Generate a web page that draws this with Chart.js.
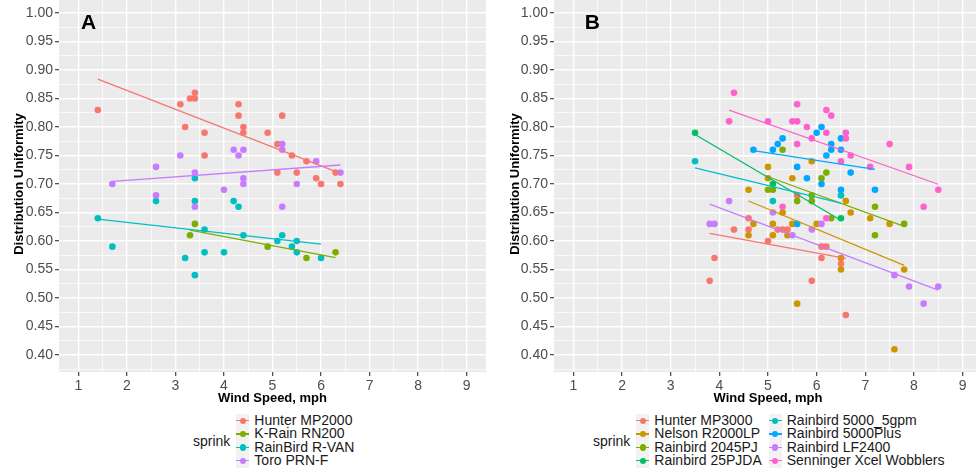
<!DOCTYPE html>
<html lang="en">
<head>
<meta charset="UTF-8" />
<title>Distribution Uniformity vs Wind Speed</title>
<script src="https://cdn.jsdelivr.net/npm/chart.js"></script>
<style>
    * { margin: 0; padding: 0; box-sizing: border-box; }
    body {
        width: 976px; height: 469px; overflow: hidden; position: relative;
        background: #fff; font-family: "Liberation Sans", Arial, sans-serif;
    }
    canvas { position: absolute; }
    #chartA { left: 0; top: -8px; }
    #chartB { left: 491px; top: -8px; }
    .legend {
        position: absolute; top: 414px; display: flex; align-items: center;
        font-size: 14px; color: #1a1a1a;
    }
    .legend .title { margin-right: 6px; }
    .legend ul { list-style: none; margin-right: 7px; }
    .legend li { display: flex; align-items: center; height: 13.4px; line-height: 13.4px; white-space: nowrap; }
    .key { width: 13px; height: 13.4px; background: #f2f2f2; position: relative; margin-right: 5px; }
    .key::before { content: ''; position: absolute; left: 0; right: 0; top: 6.1px; height: 1.2px; background: var(--c); }
    .key::after { content: ''; position: absolute; left: 3.4px; top: 3.6px; width: 6.2px; height: 6.2px; border-radius: 50%; background: var(--c); }
</style>
</head>
<body>
<canvas id="chartA" width="490" height="414"></canvas>
<canvas id="chartB" width="495" height="414"></canvas>
<div class="legend" id="legendA" style="left:193px"></div>
<div class="legend" id="legendB" style="left:593px"></div>

<script>
    // axes
    const xMajor = [1, 2, 3, 4, 5, 6, 7, 8, 9];
    const xTickLabels = ["1", "2", "3", "4", "5", "6", "7", "8", "9"];
    const yMajor = [0.40, 0.45, 0.50, 0.55, 0.60, 0.65, 0.70, 0.75, 0.80, 0.85, 0.90, 0.95, 1.00];
    const yTickLabels = ["0.40", "0.45", "0.50", "0.55", "0.60", "0.65", "0.70", "0.75", "0.80", "0.85", "0.90", "0.95", "1.00"];

    // panel A
    const sprinkA = ["Hunter MP2000", "K-Rain RN200", "RainBird R-VAN", "Toro PRN-F"];
    const colorsA = ["#F8766D", "#7CAE00", "#00BFC4", "#C77CFF"];
    const hunterMP2000Wind = [1.4, 3.4, 3.3, 3.4, 3.1, 4.3, 4.3, 5.2, 3.2, 4.4, 4.4, 3.6, 4.9, 5.1, 3.6, 5.4, 5.7, 5.1, 5.5, 6.3, 5.9, 6.0, 6.4];
    const hunterMP2000DU = [0.83, 0.86, 0.85, 0.85, 0.84, 0.84, 0.82, 0.82, 0.80, 0.80, 0.79, 0.79, 0.79, 0.77, 0.75, 0.75, 0.74, 0.72, 0.72, 0.72, 0.71, 0.70, 0.70];
    const kRainWind = [3.4, 3.3, 4.9, 6.3, 5.7];
    const kRainDU = [0.63, 0.61, 0.59, 0.58, 0.57];
    const rvanWind = [1.4, 1.7, 2.6, 3.4, 3.4, 4.2, 4.3, 3.6, 4.4, 5.1, 3.6, 4.0, 3.2, 3.4, 5.2, 5.5, 5.4, 5.5, 6.0];
    const rvanDU = [0.64, 0.59, 0.67, 0.71, 0.67, 0.67, 0.66, 0.62, 0.61, 0.60, 0.58, 0.58, 0.57, 0.54, 0.61, 0.60, 0.59, 0.58, 0.57];
    const toroWind = [1.7, 2.6, 2.6, 3.1, 3.4, 3.4, 4.0, 4.2, 4.4, 4.3, 4.4, 4.4, 5.2, 5.2, 5.9, 6.4, 5.5, 5.2];
    const toroDU = [0.70, 0.73, 0.68, 0.75, 0.72, 0.66, 0.69, 0.76, 0.76, 0.75, 0.71, 0.70, 0.77, 0.76, 0.74, 0.72, 0.70, 0.66];

    // panel B
    const sprinkB = ["Hunter MP3000", "Nelson R2000LP", "Rainbird 2045PJ", "Rainbird 25PJDA",
        "Rainbird 5000_5gpm", "Rainbird 5000Plus", "Rainbird LF2400", "Senninger Xcel Wobblers"];
    const colorsB = ["#F8766D", "#CD9600", "#7CAE00", "#00BE67", "#00BFC4", "#00A9FF", "#C77CFF", "#FF61CC"];
    const hunterMP3000Wind = [5.6, 4.6, 4.3, 4.6, 5.2, 5.3, 5.4, 5.0, 3.9, 3.8, 6.1, 6.2, 6.1, 6.5, 5.9, 6.6];
    const hunterMP3000DU = [0.68, 0.64, 0.62, 0.62, 0.62, 0.62, 0.62, 0.60, 0.57, 0.53, 0.59, 0.59, 0.57, 0.56, 0.53, 0.47];
    const nelsonWind = [5.0, 5.0, 5.5, 5.9, 6.6, 6.7, 7.1, 7.5, 6.0, 6.5, 6.5, 7.8, 5.6, 7.6, 4.6, 5.3, 4.7, 5.1, 5.5, 4.6, 5.1, 5.4];
    const nelsonDU = [0.73, 0.71, 0.71, 0.74, 0.67, 0.65, 0.64, 0.63, 0.63, 0.57, 0.55, 0.55, 0.49, 0.41, 0.69, 0.65, 0.63, 0.63, 0.63, 0.61, 0.61, 0.61];
    const rb2045Wind = [5.3, 6.2, 6.1, 5.9, 5.9, 7.2, 6.3, 7.8, 7.2, 5.0, 5.1, 5.6];
    const rb2045DU = [0.76, 0.72, 0.71, 0.68, 0.67, 0.66, 0.64, 0.63, 0.61, 0.69, 0.69, 0.67];
    const rb25Wind = [3.5, 5.1, 6.5];
    const rb25DU = [0.79, 0.70, 0.64];
    const rb5000gpmWind = [3.5, 5.1, 6.5];
    const rb5000gpmDU = [0.74, 0.67, 0.68];
    const rb5000PlusWind = [5.3, 5.2, 4.7, 5.1, 5.6, 5.8, 6.1, 6.0, 6.5, 6.3, 6.3, 6.5, 6.2, 6.7, 6.1, 6.5, 7.2, 5.6];
    const rb5000PlusDU = [0.78, 0.77, 0.76, 0.76, 0.73, 0.71, 0.80, 0.79, 0.78, 0.77, 0.76, 0.76, 0.75, 0.72, 0.70, 0.69, 0.69, 0.63];
    const lf2400Wind = [4.2, 5.1, 3.8, 3.9, 5.5, 5.9, 6.1, 7.6, 7.9, 8.5, 8.2];
    const lf2400DU = [0.67, 0.65, 0.63, 0.63, 0.61, 0.62, 0.63, 0.54, 0.52, 0.52, 0.49];
    const senningerWind = [4.3, 5.6, 4.2, 5.0, 5.5, 5.6, 5.8, 5.6, 6.2, 6.3, 6.2, 6.6, 5.9, 6.6, 7.5, 6.7, 6.5, 7.1, 7.9, 8.5, 8.2, 6.2, 5.3];
    const senningerDU = [0.86, 0.84, 0.81, 0.81, 0.81, 0.81, 0.80, 0.77, 0.83, 0.82, 0.79, 0.79, 0.78, 0.78, 0.77, 0.75, 0.74, 0.73, 0.73, 0.69, 0.66, 0.64, 0.66];

    const panelLabels = ["A", "B"];
    const panelLabelX = [1.21, 1.39];
    const panelLabelY = [0.982, 0.982];

    const groupsA = [[hunterMP2000Wind, hunterMP2000DU], [kRainWind, kRainDU], [rvanWind, rvanDU], [toroWind, toroDU]];
    const groupsB = [[hunterMP3000Wind, hunterMP3000DU], [nelsonWind, nelsonDU], [rb2045Wind, rb2045DU], [rb25Wind, rb25DU],
        [rb5000gpmWind, rb5000gpmDU], [rb5000PlusWind, rb5000PlusDU], [lf2400Wind, lf2400DU], [senningerWind, senningerDU]];

    // least squares line over the group's x range (geom_smooth method = lm)
    function fitLine(xs, ys) {
        const n = xs.length;
        const mx = xs.reduce((a, b) => a + b, 0) / n;
        const my = ys.reduce((a, b) => a + b, 0) / n;
        let sxy = 0, sxx = 0;
        xs.forEach((x, i) => { sxy += (x - mx) * (ys[i] - my); sxx += (x - mx) * (x - mx); });
        const b = sxy / sxx;
        const lo = Math.min(...xs), hi = Math.max(...xs);
        return [{ x: lo, y: my + b * (lo - mx) }, { x: hi, y: my + b * (hi - mx) }];
    }

    function buildDatasets(groups, colors) {
        const sets = [];
        groups.forEach(([xs, ys], i) => {
            sets.push({
                type: "scatter",
                data: xs.map((x, j) => ({ x: x, y: ys[j] })),
                backgroundColor: colors[i],
                borderWidth: 0,
                pointRadius: 3.3,
                order: 100 - i
            });
            sets.push({
                type: "scatter",
                showLine: true,
                data: fitLine(xs, ys),
                borderColor: colors[i],
                borderWidth: 1.3,
                pointRadius: 0,
                fill: false,
                order: 50 - i
            });
        });
        return sets;
    }

    function gridScale(major, labels, min, max) {
        const step = major[1] - major[0];
        const minor = major.map(v => v - step / 2).concat([major[major.length - 1] + step / 2])
            .filter(v => v >= min && v <= max);
        const all = major.concat(minor).sort((a, b) => a - b);
        const majorIndex = v => major.findIndex(m => Math.abs(m - v) < 1e-9);
        const isMajor = c => c.tick && majorIndex(c.tick.value) >= 0;
        return {
            type: "linear",
            min: min,
            max: max,
            afterBuildTicks: s => { s.ticks = all.map(v => ({ value: v })); },
            ticks: {
                autoSkip: false,
                maxRotation: 0,
                color: "#4d4d4d",
                font: { size: 14 },
                padding: 2,
                callback: v => { const i = majorIndex(v); return i < 0 ? "" : labels[i]; }
            },
            grid: {
                color: "#ffffff",
                lineWidth: c => isMajor(c) ? 1.4 : 0.7,
                tickLength: 4,
                tickWidth: 1.1,
                tickColor: c => isMajor(c) ? "#333333" : "rgba(0,0,0,0)"
            },
            border: { display: false }
        };
    }

    const panelBg = {
        id: "panelBg",
        beforeDraw(chart) {
            const { ctx, chartArea: a } = chart;
            ctx.save();
            ctx.fillStyle = "#ebebeb";
            ctx.fillRect(a.left, a.top, a.width, a.height);
            ctx.restore();
        }
    };

    const panelLetter = {
        id: "panelLetter",
        afterDraw(chart, args, opts) {
            const { ctx, scales } = chart;
            ctx.save();
            ctx.font = "bold 21px 'Liberation Sans', Arial, sans-serif";
            ctx.fillStyle = "#000";
            ctx.textAlign = "center";
            ctx.textBaseline = "middle";
            ctx.fillText(opts.text, scales.x.getPixelForValue(opts.x), scales.y.getPixelForValue(opts.y));
            ctx.restore();
        }
    };

    function makeChart(id, groups, colors, yWidth, titlePad, p) {
        const x = gridScale(xMajor, xTickLabels, 0.6, 9.4);
        x.title = { display: true, text: "Wind Speed, mph", color: "#000", font: { size: 13, weight: "bold" }, padding: { top: 0, bottom: 0 } };
        x.afterFit = s => { s.height = 34; s.paddingLeft = 0; s.paddingRight = 0; };
        const y = gridScale(yMajor, yTickLabels, 0.37, 1.03);
        y.title = { display: true, text: "Distribution Uniformity", color: "#000", font: { size: 13, weight: "bold" }, padding: { top: titlePad, bottom: 0 } };
        y.afterFit = s => { s.width = yWidth; s.paddingTop = 0; s.paddingBottom = 0; };

        return new Chart(document.getElementById(id).getContext("2d"), {
            type: "scatter",
            data: { datasets: buildDatasets(groups, colors) },
            options: {
                responsive: false,
                animation: false,
                devicePixelRatio: 1,
                events: [],
                layout: { padding: { top: 0, right: 1, bottom: 0, left: 0 } },
                scales: { x: x, y: y },
                plugins: {
                    legend: { display: false },
                    tooltip: { enabled: false },
                    panelLetter: { text: panelLabels[p], x: panelLabelX[p], y: panelLabelY[p] }
                }
            },
            plugins: [panelBg, panelLetter]
        });
    }

    Chart.defaults.font.family = "'Liberation Sans', Arial, sans-serif";
    makeChart("chartA", groupsA, colorsA, 59, 12, 0);
    makeChart("chartB", groupsB, colorsB, 63, 17, 1);

    function buildLegend(id, names, colors, perColumn) {
        const box = document.getElementById(id);
        let html = '<span class="title">sprink</span>';
        for (let c = 0; c < names.length; c += perColumn) {
            html += "<ul>";
            names.slice(c, c + perColumn).forEach((name, k) => {
                html += `<li><span class="key" style="--c:${colors[c + k]}"></span>${name}</li>`;
            });
            html += "</ul>";
        }
        box.innerHTML = html;
    }
    buildLegend("legendA", sprinkA, colorsA, 4);
    buildLegend("legendB", sprinkB, colorsB, 4);
</script>
</body>
</html>
